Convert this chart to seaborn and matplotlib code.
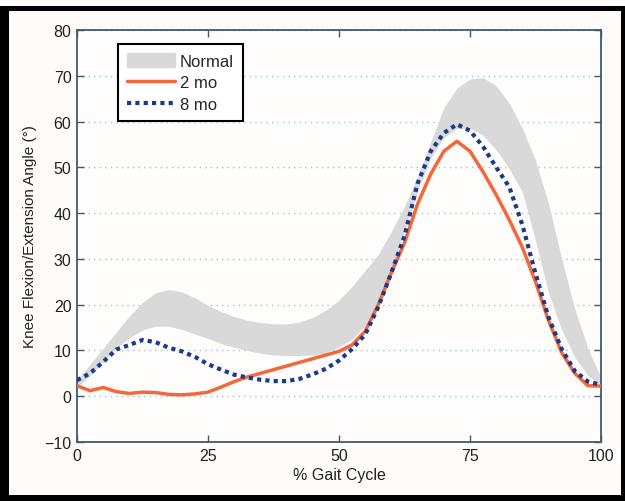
import numpy as np
import pandas as pd
import seaborn as sns
import matplotlib.pyplot as plt
from matplotlib.patches import Patch, Rectangle
from matplotlib.lines import Line2D

# % gait cycle sample points
gait = [0, 2.5, 5, 7.5, 10, 12.5, 15, 17.5, 20, 22.5, 25, 27.5, 30, 32.5, 35, 37.5,
        40, 42.5, 45, 47.5, 50, 52.5, 55, 57.5, 60, 62.5, 65, 67.5, 70, 72.5, 75,
        77.5, 80, 82.5, 85, 87.5, 90, 92.5, 95, 97.5, 100]

# normal band (lower / upper)
normal_lo = [2.0, 4.5, 7.5, 10.5, 12.8, 14.5, 15.3, 15.3, 14.6, 13.6, 12.6, 11.5, 10.7,
             10.0, 9.4, 9.0, 8.9, 8.9, 9.0, 9.5, 10.8, 12.5, 15.5, 20.5, 27.5, 36.0,
             45.0, 52.0, 56.5, 58.5, 58.5, 57.0, 53.8, 49.7, 44.6, 34.0, 22.5, 14.5,
             8.5, 4.5, 2.3]
normal_hi = [3.5, 7.0, 10.5, 14.0, 17.5, 20.5, 22.6, 23.3, 22.8, 21.5, 19.8, 18.5, 17.4,
             16.6, 16.1, 15.8, 15.8, 16.2, 17.2, 18.8, 21.0, 24.0, 27.5, 31.0, 36.0,
             41.5, 48.0, 55.5, 63.0, 67.3, 69.3, 69.6, 67.8, 64.0, 58.5, 51.5, 42.0,
             30.0, 19.0, 10.5, 4.0]

# 2 months post-op
mo2 = [2.3, 1.2, 1.9, 1.0, 0.6, 0.9, 0.8, 0.4, 0.3, 0.5, 0.9, 2.0, 3.2, 4.2, 5.0, 5.8,
       6.6, 7.4, 8.2, 9.0, 9.8, 11.2, 14.2, 20.0, 27.0, 33.5, 42.0, 48.5, 53.5, 55.7,
       53.5, 49.0, 44.0, 38.5, 32.5, 25.0, 16.5, 9.5, 5.0, 2.3, 2.2]

# 8 months post-op
mo8 = [3.5, 5.0, 7.5, 10.2, 11.2, 12.3, 11.8, 10.6, 9.8, 8.6, 7.0, 5.8, 4.7, 4.1, 3.6,
       3.3, 3.3, 3.8, 4.8, 6.0, 7.8, 10.3, 13.5, 19.5, 27.0, 35.0, 46.5, 53.5, 57.5,
       59.4, 58.0, 54.5, 50.0, 45.7, 37.4, 26.8, 17.2, 10.3, 5.5, 3.2, 2.5]

x_ticks = [0, 25, 50, 75, 100]
y_ticks = [-10, 0, 10, 20, 30, 40, 50, 60, 70, 80]

df = pd.DataFrame({"gait": gait * 2, "angle": mo2 + mo8,
                   "group": ["2 mo"] * len(gait) + ["8 mo"] * len(gait)})

sns.set_style("ticks")
plt.rcParams["font.family"] = ["Liberation Sans", "DejaVu Sans"]

fig = plt.figure(figsize=(6.25, 5.02), dpi=100)
fig.patch.set_facecolor("#fffbf9")
ax = fig.add_axes([77 / 625, 59 / 502, 524 / 625, 412 / 502])
ax.set_facecolor("#fffdfc")

c_orange = "#f4673a"
c_blue = "#1b3a8c"
c_gray = "#d9d9d9"
c_spine = "#3f5a6e"

ax.fill_between(gait, normal_lo, normal_hi, color=c_gray, lw=0, zorder=1)
sns.lineplot(data=df[df.group == "2 mo"], x="gait", y="angle", color=c_orange,
             lw=2.5, ax=ax, zorder=3)
sns.lineplot(data=df[df.group == "8 mo"], x="gait", y="angle", color=c_blue,
             lw=3, ax=ax, zorder=4, linestyle=(0, (1, 1)))

ax.set_xlim(0, 100)
ax.set_ylim(-10, 80)
ax.set_xticks(x_ticks)
ax.set_yticks(y_ticks)
ax.yaxis.grid(True, linestyle=(0, (1, 3)), color="#9cc6e0", lw=1)
ax.set_axisbelow(True)
ax.tick_params(direction="in", top=True, right=True, length=5, width=1,
               color=c_spine, labelsize=11.5, labelcolor="#222222", pad=4)
for s in ax.spines.values():
    s.set_color(c_spine)
    s.set_linewidth(1.3)

ax.set_xlabel("% Gait Cycle", fontsize=11.5, color="#222222", labelpad=3)
ax.set_ylabel("Knee Flexion/Extension Angle (°)", fontsize=11, color="#222222",
              labelpad=5)

handles = [Patch(facecolor=c_gray, edgecolor=c_gray),
           Line2D([0], [0], color=c_orange, lw=2.5),
           Line2D([0], [0], color=c_blue, lw=3, linestyle=(0, (1, 1)))]
leg = ax.legend(handles, ["Normal", "2 mo", "8 mo"], loc="upper left",
                bbox_to_anchor=(0.078, 0.966), fontsize=12, frameon=True,
                fancybox=False, framealpha=1, edgecolor="black",
                handlelength=2.9, handleheight=0.9, handletextpad=0.25,
                labelspacing=0.35, borderpad=0.55, borderaxespad=0)
leg.get_frame().set_linewidth(1.5)

# black border round the picture
for (x0, y0, w, h) in [(0, 0, 9, 495), (0, 490, 625, 5), (621, 0, 4, 495), (0, 0, 625, 6)]:
    fig.add_artist(Rectangle((x0 / 625, y0 / 502), w / 625, h / 502,
                             transform=fig.transFigure, color="black", lw=0))

fig.savefig("out.png", dpi=100)
